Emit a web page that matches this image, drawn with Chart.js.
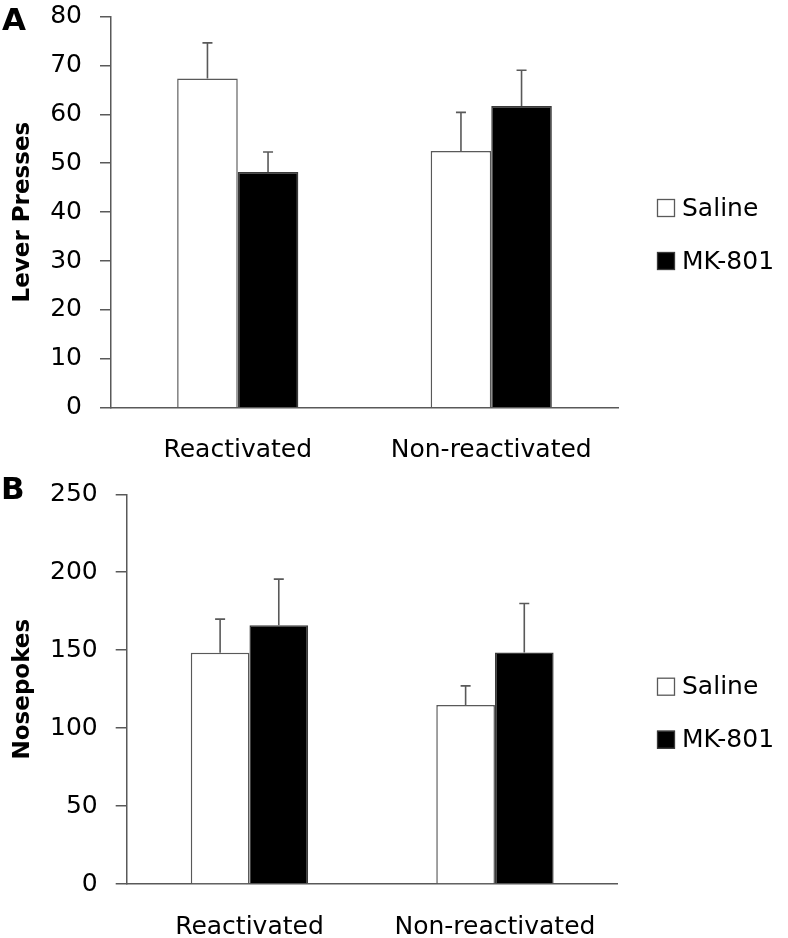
<!DOCTYPE html>
<html><head><meta charset="utf-8">
<script src="https://cdn.jsdelivr.net/npm/chart.js@4.4.1/dist/chart.umd.min.js"></script>
<style>
html,body{margin:0;padding:0;background:#fff;overflow:hidden;width:788px;height:938px;}
.panel{position:absolute;left:0;width:788px;height:469px;}
.panel canvas{display:block;}
#pa{top:0;} #pb{top:469px;}
.lbl{position:absolute;font-family:"DejaVu Sans";font-weight:bold;font-size:31px;line-height:31px;color:#000;}
</style></head><body>
<div class="panel" id="pa"><canvas id="ca" width="788" height="469"></canvas></div>
<div class="panel" id="pb"><canvas id="cb" width="788" height="469"></canvas></div>
<div class="lbl" style="left:2px;top:4px;">A</div>
<div class="lbl" style="left:1px;top:473px;">B</div>
<script>
// ---- data ----
const categories = ['Reactivated', 'Non-reactivated'];
const seriesNames = ['Saline', 'MK-801'];

const leverSaline = [67.3, 52.5];
const leverSalineErr = [7.3, 7.9];
const leverMK801 = [48.2, 61.7];
const leverMK801Err = [4.1, 7.3];
const leverTicks = [0, 10, 20, 30, 40, 50, 60, 70, 80];

const nosepokeSaline = [148.3, 114.9];
const nosepokeSalineErr = [21.6, 12.2];
const nosepokeMK801 = [166.0, 148.5];
const nosepokeMK801Err = [29.6, 31.4];
const nosepokeTicks = [0, 50, 100, 150, 200, 250];

const yTitleA = 'Lever Presses';
const yTitleB = 'Nosepokes';

// ---- styling ----
const AXIS = '#595959';
const FONT = 'DejaVu Sans';

const errorBarPlugin = {
  id: 'errorBars',
  afterDatasetsDraw(chart) {
    const ctx = chart.ctx;
    const ys = chart.scales.y;
    chart.data.datasets.forEach((ds, i) => {
      const meta = chart.getDatasetMeta(i);
      if (meta.hidden || !ds.errorBars) return;
      meta.data.forEach((bar, j) => {
        const top = ys.getPixelForValue(ds.data[j] + ds.errorBars[j]);
        ctx.save();
        ctx.strokeStyle = AXIS;
        ctx.lineWidth = 1.6;
        ctx.beginPath();
        ctx.moveTo(bar.x, bar.y);
        ctx.lineTo(bar.x, top);
        ctx.moveTo(bar.x - 5, top);
        ctx.lineTo(bar.x + 5, top);
        ctx.stroke();
        ctx.restore();
      });
    });
  }
};

// legend to the right of the plot, drawn from the datasets
const sideLegendPlugin = {
  id: 'sideLegend',
  afterDraw(chart, args, opts) {
    const ctx = chart.ctx;
    const n = chart.data.datasets.length;
    ctx.save();
    ctx.font = '25px "' + FONT + '"';
    ctx.textBaseline = 'middle';
    ctx.textAlign = 'left';
    chart.data.datasets.forEach((ds, i) => {
      const cy = opts.centerY + (i - (n - 1) / 2) * opts.spacing;
      const bx = opts.x, bs = opts.box;
      ctx.fillStyle = ds.backgroundColor;
      ctx.fillRect(bx, cy - bs / 2, bs, bs);
      ctx.strokeStyle = ds.borderColor;
      ctx.lineWidth = 1.3;
      ctx.strokeRect(bx + 0.5, cy - bs / 2 + 0.5, bs - 1, bs - 1);
      ctx.fillStyle = '#000';
      ctx.fillText(ds.label, bx + bs + opts.gap, cy + 1);
    });
    ctx.restore();
  }
};

function makeChart(canvas, cfg) {
  const tickVals = cfg.ticks;
  return new Chart(canvas, {
    type: 'bar',
    data: {
      labels: categories,
      datasets: [
        { label: seriesNames[0], data: cfg.saline, errorBars: cfg.salineErr,
          backgroundColor: '#ffffff', borderColor: AXIS, borderWidth: 1.5,
          categoryPercentage: 0.478, barPercentage: 1.0 },
        { label: seriesNames[1], data: cfg.mk, errorBars: cfg.mkErr,
          backgroundColor: '#000000', borderColor: '#3a3a3a', borderWidth: 1.5,
          categoryPercentage: 0.478, barPercentage: 1.0 }
      ]
    },
    options: {
      responsive: false,
      animation: false,
      devicePixelRatio: 1,
      layout: { padding: { top: 0, left: 0, right: cfg.padRight, bottom: 0 } },
      plugins: {
        tooltip: { enabled: false },
        legend: { display: false },
        sideLegend: { x: 657, box: 18, gap: 7, spacing: 53, centerY: cfg.legendY }
      },
      scales: {
        x: {
          grid: { display: false, drawTicks: false },
          border: { display: true, color: AXIS, width: 1.5 },
          ticks: { font: { family: FONT, size: 25 }, color: '#000', padding: 28, maxRotation: 0, autoSkip: false },
          afterFit(s) { s.height = cfg.xHeight; s.paddingLeft = 0; s.paddingRight = 0; }
        },
        y: {
          min: tickVals[0],
          max: tickVals[tickVals.length - 1],
          afterBuildTicks(s) { s.ticks = tickVals.map(v => ({ value: v })); },
          grid: { display: true, drawOnChartArea: false, drawTicks: true, tickLength: 11, color: AXIS, lineWidth: 1.5 },
          border: { display: true, color: AXIS, width: 1.5 },
          ticks: { font: { family: FONT, size: 25 }, color: '#000', padding: 18 },
          title: { display: true, text: cfg.title, color: '#000',
                   font: { family: FONT, size: 23, weight: 'bold' }, padding: { top: 9, bottom: 0 } },
          afterFit(s) { s.width = cfg.yWidth; s.paddingTop = cfg.areaTop; s.paddingBottom = 0; }
        }
      }
    },
    plugins: [errorBarPlugin, sideLegendPlugin]
  });
}

const charts = [
  makeChart(document.getElementById('ca'), {
    saline: leverSaline, salineErr: leverSalineErr,
    mk: leverMK801, mkErr: leverMK801Err,
    ticks: leverTicks, title: yTitleA,
    areaTop: 16.5, yWidth: 111, xHeight: 61.3, padRight: 170, legendY: 234.5
  }),
  makeChart(document.getElementById('cb'), {
    saline: nosepokeSaline, salineErr: nosepokeSalineErr,
    mk: nosepokeMK801, mkErr: nosepokeMK801Err,
    ticks: nosepokeTicks, title: yTitleB,
    areaTop: 25.3, yWidth: 126.7, xHeight: 54, padRight: 170.3, legendY: 244.2
  })
];

function refresh() { charts.forEach(c => c.update()); }
if (document.fonts) {
  document.fonts.load('25px "DejaVu Sans"').then(refresh, refresh);
}
</script>
</body></html>
